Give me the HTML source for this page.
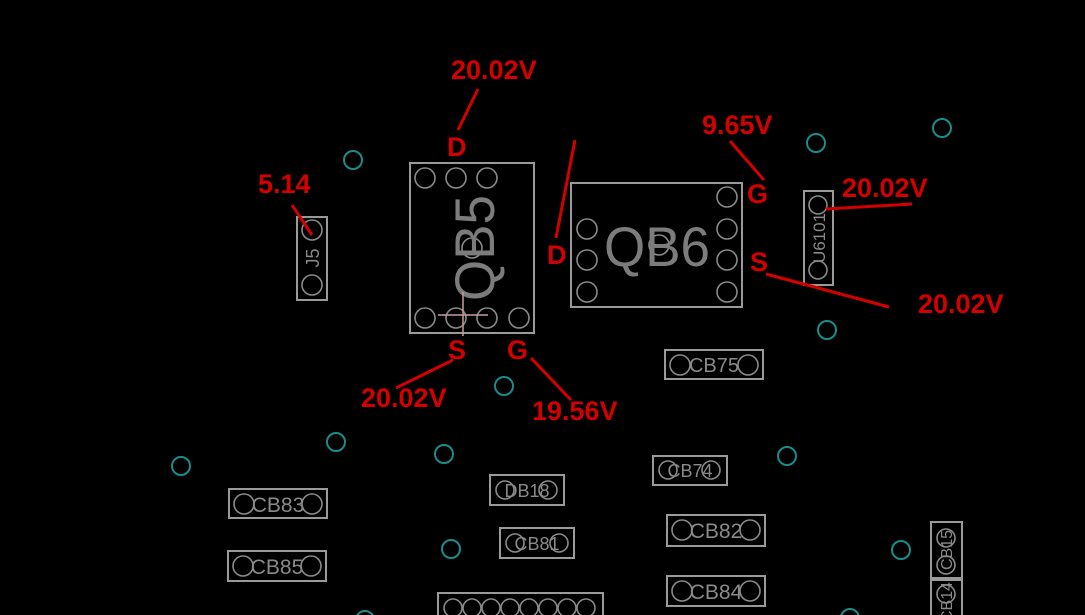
<!DOCTYPE html>
<html><head><meta charset="utf-8"><style>
html,body{margin:0;padding:0;background:#000;width:1085px;height:615px;overflow:hidden}
svg{display:block}
.o{fill:none;stroke:#9a9a9a;stroke-width:2}
.p{fill:none;stroke:#8a8a8a;stroke-width:1.6}
.t{fill:none;stroke:#1a8c8c;stroke-width:2}
.r{stroke:#d40000;stroke-width:3}
.lb{fill:#d40000;font-family:"Liberation Sans",sans-serif;font-weight:bold;font-size:27px}
.gt{fill:#8a8a8a;font-family:"Liberation Sans",sans-serif}
</style></head><body>
<svg width="1085" height="615" viewBox="0 0 1085 615" xmlns="http://www.w3.org/2000/svg">
<g class="t">
<circle cx="353" cy="160" r="9"/><circle cx="816" cy="143" r="9"/><circle cx="942" cy="128" r="9"/>
<circle cx="827" cy="330" r="9"/><circle cx="504" cy="386" r="9"/><circle cx="336" cy="442" r="9"/>
<circle cx="444" cy="454" r="9"/><circle cx="181" cy="466" r="9"/><circle cx="787" cy="456" r="9"/>
<circle cx="451" cy="549" r="9"/><circle cx="901" cy="550" r="9"/><circle cx="365" cy="620" r="9"/><circle cx="850" cy="618" r="9"/>
</g>
<rect class="o" x="410" y="163" width="124" height="170"/>
<g class="p"><circle cx="425" cy="178" r="10"/><circle cx="456" cy="178" r="10"/><circle cx="487" cy="178" r="10"/>
<circle cx="425" cy="318" r="10"/><circle cx="456" cy="318" r="10"/><circle cx="487" cy="318" r="10"/><circle cx="519" cy="318" r="10"/>
<circle cx="472" cy="248" r="10"/></g>
<text class="gt" font-size="56" fill="#7c7c7c" style="fill:#7c7c7c" transform="translate(494,248) rotate(-90)" text-anchor="middle" textLength="106" lengthAdjust="spacingAndGlyphs">QB5</text>
<line x1="438" y1="315" x2="488" y2="315" stroke="#c89aa0" stroke-width="1.5"/>
<line x1="463" y1="292" x2="463" y2="336" stroke="#c89aa0" stroke-width="1.5"/>
<rect class="o" x="571" y="183" width="171" height="124"/>
<g class="p"><circle cx="587" cy="229" r="10"/><circle cx="587" cy="260" r="10"/><circle cx="587" cy="292" r="10"/>
<circle cx="727" cy="197" r="10"/><circle cx="727" cy="229" r="10"/><circle cx="727" cy="260" r="10"/><circle cx="727" cy="292" r="10"/>
<circle cx="659" cy="245" r="10"/></g>
<text class="gt" font-size="56" style="fill:#7c7c7c" x="657" y="266" text-anchor="middle" textLength="106" lengthAdjust="spacingAndGlyphs">QB6</text>
<rect class="o" x="297" y="217" width="30" height="83"/>
<g class="p"><circle cx="312" cy="230" r="10"/><circle cx="312" cy="285" r="10"/></g>
<text class="gt" font-size="18" transform="translate(319,258) rotate(-90)" text-anchor="middle">J5</text>
<rect class="o" x="804" y="191" width="29" height="94"/>
<g class="p"><circle cx="818" cy="205" r="9"/><circle cx="818" cy="270" r="9"/></g>
<text class="gt" font-size="17" transform="translate(825,238) rotate(-90)" text-anchor="middle">U6101</text>
<g>
<rect class="o" x="665" y="350" width="98" height="29"/><circle class="p" cx="680" cy="365" r="10"/><circle class="p" cx="748" cy="365" r="10"/>
<text class="gt" font-size="20" x="714" y="372" text-anchor="middle">CB75</text>
<rect class="o" x="653" y="456" width="74" height="29"/><circle class="p" cx="668" cy="470" r="9"/><circle class="p" cx="711" cy="470" r="9"/>
<text class="gt" font-size="18" x="690" y="477" text-anchor="middle">CB74</text>
<rect class="o" x="490" y="475" width="74" height="30"/><circle class="p" cx="505" cy="490" r="9"/><circle class="p" cx="548" cy="490" r="9"/>
<text class="gt" font-size="18" x="527" y="497" text-anchor="middle">DB18</text>
<rect class="o" x="500" y="528" width="74" height="30"/><circle class="p" cx="515" cy="543" r="9"/><circle class="p" cx="559" cy="543" r="9"/>
<text class="gt" font-size="18" x="537" y="550" text-anchor="middle">CB81</text>
<rect class="o" x="667" y="515" width="98" height="31"/><circle class="p" cx="682" cy="530" r="10"/><circle class="p" cx="750" cy="530" r="10"/>
<text class="gt" font-size="21" x="716" y="538" text-anchor="middle">CB82</text>
<rect class="o" x="667" y="576" width="98" height="30"/><circle class="p" cx="682" cy="591" r="10"/><circle class="p" cx="750" cy="591" r="10"/>
<text class="gt" font-size="21" x="716" y="599" text-anchor="middle">CB84</text>
<rect class="o" x="229" y="489" width="98" height="29"/><circle class="p" cx="244" cy="504" r="10"/><circle class="p" cx="312" cy="504" r="10"/>
<text class="gt" font-size="21" x="278" y="512" text-anchor="middle">CB83</text>
<rect class="o" x="228" y="551" width="98" height="30"/><circle class="p" cx="243" cy="566" r="10"/><circle class="p" cx="311" cy="566" r="10"/>
<text class="gt" font-size="21" x="277" y="574" text-anchor="middle">CB85</text>
<rect class="o" x="438" y="593" width="165" height="30"/>
<g class="p"><circle cx="453" cy="608" r="9"/><circle cx="472" cy="608" r="9"/><circle cx="491" cy="608" r="9"/><circle cx="510" cy="608" r="9"/><circle cx="529" cy="608" r="9"/><circle cx="548" cy="608" r="9"/><circle cx="567" cy="608" r="9"/><circle cx="586" cy="608" r="9"/></g>
<rect class="o" x="931" y="522" width="31" height="56"/><rect class="o" x="931" y="580" width="31" height="45"/>
<g class="p"><circle cx="946" cy="538" r="9"/><circle cx="946" cy="565" r="9"/><circle cx="946" cy="594" r="9"/></g>
<text class="gt" font-size="16" transform="translate(952,550) rotate(-90)" text-anchor="middle">CB15</text>
<text class="gt" font-size="16" transform="translate(952,602) rotate(-90)" text-anchor="middle">CB14</text>
</g>
<g class="r">
<line x1="478" y1="89" x2="458" y2="130"/>
<line x1="292" y1="205" x2="312" y2="235"/>
<line x1="575" y1="140" x2="556" y2="238"/>
<line x1="730" y1="141" x2="764" y2="180"/>
<line x1="912" y1="204" x2="826" y2="209"/>
<line x1="766" y1="274" x2="889" y2="307"/>
<line x1="453" y1="360" x2="396" y2="388"/>
<line x1="531" y1="358" x2="571" y2="400"/>
</g>
<g class="lb">
<text x="451" y="79">20.02V</text>
<text x="447" y="156">D</text>
<text x="258" y="193">5.14</text>
<text x="547" y="264">D</text>
<text x="702" y="134">9.65V</text>
<text x="747" y="203">G</text>
<text x="842" y="197">20.02V</text>
<text x="750" y="271">S</text>
<text x="918" y="313">20.02V</text>
<text x="448" y="359">S</text>
<text x="507" y="359">G</text>
<text x="361" y="407">20.02V</text>
<text x="532" y="420">19.56V</text>
</g>
</svg>
</body></html>
